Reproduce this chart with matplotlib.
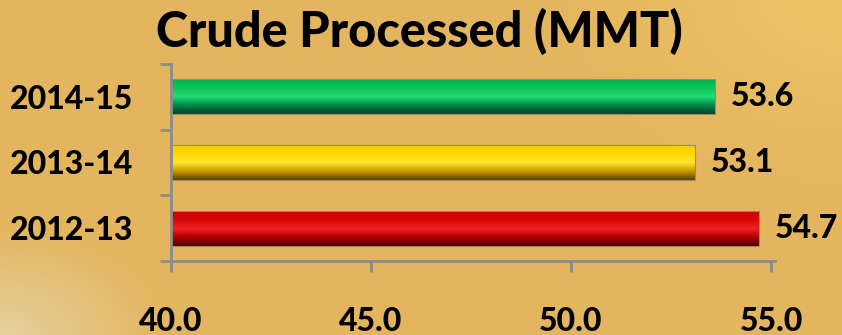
import numpy as np
import matplotlib
matplotlib.use("Agg")
import matplotlib.pyplot as plt
from matplotlib.colors import LinearSegmentedColormap

years = ["2012-13", "2013-14", "2014-15"]
values = [54.7, 53.1, 53.6]
value_labels = ["54.7", "53.1", "53.6"]
xticks = [40.0, 45.0, 50.0, 55.0]

# top -> bottom gradient stops for each bar (cylinder look)
bar_shades = [
    ["#c80000", "#d80808", "#f02222", "#b00000", "#4a0000"],
    ["#ffcc00", "#ffd800", "#ffe830", "#c89800", "#5a4300"],
    ["#00b04c", "#0cc45c", "#22dc74", "#00884a", "#004422"],
]

plt.rcParams["font.family"] = ["Lato", "DejaVu Sans"]
plt.rcParams["font.weight"] = "black"

fig = plt.figure(figsize=(8.42, 3.35), dpi=100)

# background
bg = fig.add_axes([0, 0, 1, 1], zorder=-10)
h, w = 335, 842
yy, xx = np.mgrid[0:h, 0:w]
base = np.array([0.89, 0.71, 0.37])
img = np.ones((h, w, 3)) * base
light = np.clip(1 - np.hypot(xx / 170.0, (h - yy) / 110.0), 0, 1)[..., None]
img = img * (1 - light) + np.array([0.90, 0.82, 0.62]) * light
tr = np.clip(1 - np.hypot((w - xx) / 300.0, yy / 200.0), 0, 1)[..., None] * 0.6
img = img * (1 - tr) + np.array([0.97, 0.80, 0.42]) * tr
bg.imshow(img, aspect="auto", extent=[0, 1, 0, 1])
bg.axis("off")

ax = fig.add_axes([171 / 842, (335 - 261) / 335, (775 - 171) / 842, (261 - 64) / 335])
ax.patch.set_alpha(0)

bars = ax.barh(range(len(years)), [v - 40.0 for v in values], left=40.0,
               height=0.53, color="none", edgecolor="#9a8a70", linewidth=0.8,
               zorder=3)
for bar, shades in zip(bars, bar_shades):
    cmap = LinearSegmentedColormap.from_list("g", shades)
    grad = np.linspace(0, 1, 100).reshape(-1, 1)
    x0, y0 = bar.get_x(), bar.get_y()
    im = ax.imshow(grad, cmap=cmap, aspect="auto", zorder=2,
                   extent=[x0, x0 + bar.get_width(), y0, y0 + bar.get_height()],
                   origin="upper")
    im.set_clip_path(bar)

for i, (v, lab) in enumerate(zip(values, value_labels)):
    ax.text(v + 0.4, i, lab, va="center", ha="left", fontsize=23,
            fontweight="black", color="black")

ax.set_xlim(40, 55.1)
ax.set_ylim(-0.5, 2.5)
ax.set_xticks(xticks)
ax.set_xticklabels([f"{t:.1f}" for t in xticks], fontsize=23, fontweight="black")
ax.set_yticks(range(len(years)))
ax.set_yticklabels(years, fontsize=23, fontweight="black")
ax.set_yticks([-0.5, 0.5, 1.5, 2.5], minor=True)
ax.tick_params(axis="y", which="major", length=0, pad=27)
ax.tick_params(axis="y", which="minor", length=8, width=2, color="#8c8c8c")
ax.tick_params(axis="x", length=8, width=2, color="#8c8c8c", pad=25)

for s in ["top", "right"]:
    ax.spines[s].set_visible(False)
for s in ["left", "bottom"]:
    ax.spines[s].set_color("#8c8c8c")
    ax.spines[s].set_linewidth(2)

fig.text(419 / 842, 1 - 31 / 335, "Crude Processed (MMT)", ha="center",
         va="center", fontsize=35, fontweight="black")

fig.savefig("out.png", dpi=100)
